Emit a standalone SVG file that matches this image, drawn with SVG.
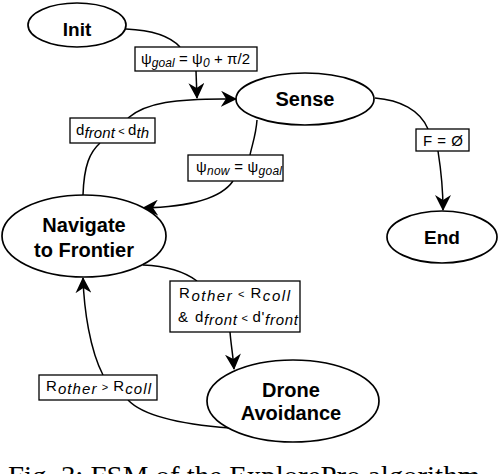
<svg xmlns="http://www.w3.org/2000/svg" width="500" height="474" viewBox="0 0 500 474">
<style>
.node{fill:#fff;stroke:#000;stroke-width:1.7}
.nt{font-family:"Liberation Sans",Arial,sans-serif;font-weight:bold;font-size:20px;text-anchor:middle;fill:#000}
.lb{fill:#fff;stroke:#000;stroke-width:1.3}
.lt{font-family:"Liberation Sans",Arial,sans-serif;font-size:15px;fill:#000}
.sub{font-size:12px;font-style:italic}
.sb{font-size:15px;font-style:italic}
.sm{font-size:11px}
.edge{fill:none;stroke:#000;stroke-width:1.5}
.cap{font-family:"Liberation Serif","Times New Roman",serif;font-size:28px;fill:#000}
</style>
<defs>
<marker id="arr" markerUnits="userSpaceOnUse" viewBox="0 0 16 16" markerWidth="16" markerHeight="16" refX="15" refY="8" orient="auto">
<path d="M0,0 L16,8 L0,16 L5,8 z" fill="#000"/>
</marker>
</defs>
<g id="connectors">
<path class="edge" d="M126,29 C150,30 170,36 180,47"/>
<path class="edge" d="M196,71 L197,98" marker-end="url(#arr)"/>
<path class="edge" d="M83,195 C84,165 90,152 100,143"/>
<path class="edge" d="M128,118 C145,103 175,98 236,99" marker-end="url(#arr)"/>
<path class="edge" d="M257,120 C256,135 252,145 250,155"/>
<path class="edge" d="M233,181 C220,200 185,207 143,208" marker-end="url(#arr)"/>
<path class="edge" d="M375,98 C400,100 420,110 428,129"/>
<path class="edge" d="M438,151 C441,170 443,190 443,210" marker-end="url(#arr)"/>
<path class="edge" d="M143,265 C165,266 185,272 197,281"/>
<path class="edge" d="M230,332 C231,345 233,355 234,369" marker-end="url(#arr)"/>
<path class="edge" d="M230,428 C190,425 145,418 128,400"/>
<path class="edge" d="M103,375 C90,350 84,310 83,278" marker-end="url(#arr)"/>
</g>
<g id="init">
<ellipse class="node" cx="77" cy="25" rx="49" ry="22"/>
<text class="nt" x="77" y="36" style="font-size:19px">Init</text>
</g>
<g id="sense">
<ellipse class="node" cx="305" cy="99" rx="69" ry="26"/>
<text class="nt" x="305" y="106">Sense</text>
</g>
<g id="end">
<ellipse class="node" cx="442" cy="237" rx="55" ry="26"/>
<text class="nt" x="442" y="244" style="font-size:19px">End</text>
</g>
<g id="navigate">
<ellipse class="node" cx="84" cy="236" rx="82" ry="41"/>
<text class="nt" x="84" y="232">Navigate</text>
<text class="nt" x="84" y="257">to Frontier</text>
</g>
<g id="drone">
<ellipse class="node" cx="293" cy="401" rx="86" ry="41"/>
<text class="nt" x="291" y="397">Drone</text>
<text class="nt" x="291" y="420">Avoidance</text>
</g>
<g id="label-init-sense">
<rect class="lb" x="135" y="47" width="122" height="24"/>
<text class="lt" x="141" y="64" textLength="109" lengthAdjust="spacing">ψ<tspan class="sub" dy="3">goal</tspan><tspan dy="-3"> = ψ</tspan><tspan class="sub" dy="3">0</tspan><tspan dy="-3"> + π/2</tspan></text>
</g>
<g id="label-nav-sense">
<rect class="lb" x="70" y="118" width="85" height="25"/>
<text class="lt" x="76" y="135" textLength="73" lengthAdjust="spacing">d<tspan class="sb" dy="3">front</tspan><tspan class="sm" dy="-3"> &lt; </tspan>d<tspan class="sb" dy="3">th</tspan></text>
</g>
<g id="label-sense-nav">
<rect class="lb" x="188" y="155" width="95" height="26"/>
<text class="lt" x="196" y="172" textLength="86" lengthAdjust="spacing">ψ<tspan class="sub" dy="3">now</tspan><tspan dy="-3"> = ψ</tspan><tspan class="sub" dy="3">goal</tspan></text>
</g>
<g id="label-sense-end">
<rect class="lb" x="416" y="129" width="53" height="22"/>
<text class="lt" x="423" y="146" textLength="40" lengthAdjust="spacing">F = Ø</text>
</g>
<g id="label-nav-drone">
<rect class="lb" x="170" y="281" width="130" height="51"/>
<text class="lt" x="179" y="298" textLength="111" lengthAdjust="spacing">R<tspan class="sb" dy="3">other</tspan><tspan class="sm" dy="-3"> &lt; </tspan>R<tspan class="sb" dy="3">coll</tspan></text>
<text class="lt" x="178" y="322">&amp;</text>
<text class="lt" x="195" y="322" textLength="103" lengthAdjust="spacing">d<tspan class="sb" dy="3">front</tspan><tspan class="sm" dy="-3"> &lt; </tspan>d'<tspan class="sb" dy="3">front</tspan></text>
</g>
<g id="label-drone-nav">
<rect class="lb" x="39" y="375" width="118" height="25"/>
<text class="lt" x="46" y="391" textLength="105" lengthAdjust="spacing">R<tspan class="sb" dy="3">other</tspan><tspan class="sm" dy="-3"> &gt; </tspan>R<tspan class="sb" dy="3">coll</tspan></text>
</g>
<text class="cap" x="8" y="485" textLength="472" lengthAdjust="spacingAndGlyphs">Fig. 3: FSM of the ExplorePro algorithm</text>
</svg>
